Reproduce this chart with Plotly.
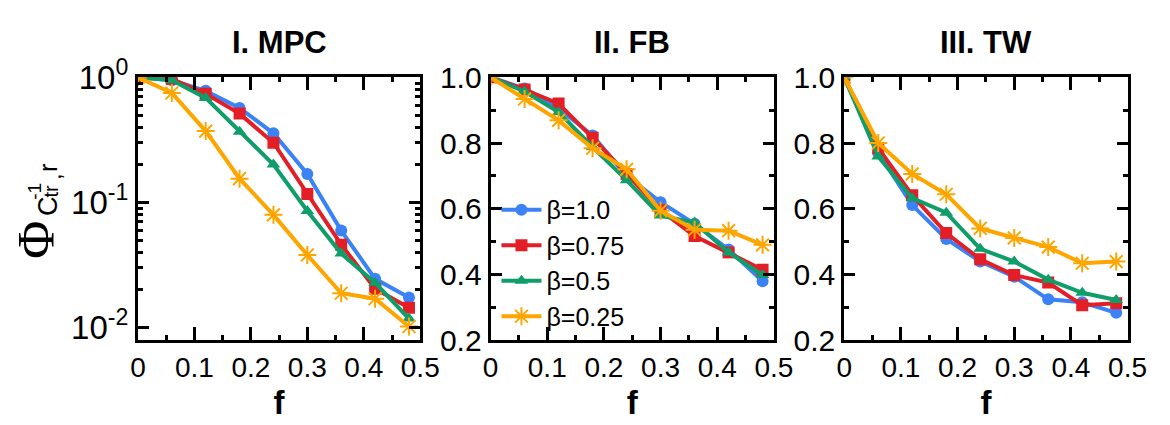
import plotly.graph_objects as go

f_vals = [0, 0.06, 0.12, 0.18, 0.24, 0.30, 0.36, 0.42, 0.48]
betas = ["β=1.0", "β=0.75", "β=0.5", "β=0.25"]
colors = ["#3b82f6", "#e31e26", "#0f9d6a", "#ffa500"]
symbols = ["circle", "square", "triangle-up", "asterisk-open"]
panel_titles = ["I. MPC", "II. FB", "III. TW"]

mpc = {
    "β=1.0":  [1.0, 0.95, 0.78, 0.57, 0.357, 0.169, 0.0596, 0.0245, 0.0174],
    "β=0.75": [1.0, 0.97, 0.74, 0.513, 0.30, 0.117, 0.046, 0.0204, 0.0144],
    "β=0.5":  [1.0, 0.95, 0.685, 0.367, 0.201, 0.0855, 0.039, 0.0228, 0.0118],
    "β=0.25": [1.0, 0.75, 0.372, 0.155, 0.0796, 0.038, 0.0188, 0.017, 0.0102],
}
fb = {
    "β=1.0":  [1.0, 0.966, 0.905, 0.823, 0.70, 0.62, 0.554, 0.476, 0.379],
    "β=0.75": [1.0, 0.963, 0.92, 0.816, 0.706, 0.595, 0.517, 0.467, 0.414],
    "β=0.5":  [1.0, 0.957, 0.894, 0.788, 0.687, 0.579, 0.558, 0.467, 0.398],
    "β=0.25": [1.0, 0.934, 0.869, 0.784, 0.72, 0.594, 0.536, 0.533, 0.49],
}
tw = {
    "β=1.0":  [1.0, 0.77, 0.611, 0.508, 0.439, 0.393, 0.324, 0.315, 0.283],
    "β=0.75": [1.0, 0.784, 0.641, 0.526, 0.446, 0.398, 0.375, 0.306, 0.312],
    "β=0.5":  [1.0, 0.759, 0.632, 0.588, 0.478, 0.439, 0.384, 0.344, 0.322],
    "β=0.25": [1.0, 0.80, 0.706, 0.644, 0.54, 0.511, 0.483, 0.434, 0.439],
}
panels = [mpc, fb, tw]

x_ticks = [0, 0.1, 0.2, 0.3, 0.4, 0.5]
x_ticktext = ["0", "0.1", "0.2", "0.3", "0.4", "0.5"]
lin_ticks = [0.2, 0.4, 0.6, 0.8, 1.0]
lin_ticktext = ["0.2", "0.4", "0.6", "0.8", "1.0"]
log_ticks = [0.01, 0.1, 1.0]
log_ticktext = ["10<sup>-2</sup>", "10<sup>-1</sup>", "10<sup>0</sup>"]

W, H = 1170, 425
x_domains = [(133, 422), (494, 784), (856, 1146)]
y_top, y_bot = 60, 350
ydom = [(H - y_bot) / H, (H - y_top) / H]

fig = go.Figure()
font_main = "Liberation Sans, Arial, Helvetica, sans-serif"

for p, data in enumerate(panels):
    ax = "" if p == 0 else str(p + 1)
    for i, b in enumerate(betas):
        sym = symbols[i]
        fig.add_trace(go.Scatter(
            x=f_vals, y=data[b], mode="lines+markers", name=b,
            xaxis="x" + ax, yaxis="y" + ax,
            line=dict(color=colors[i], width=4),
            marker=dict(symbol=sym, color=colors[i],
                        size=15 if sym == "asterisk-open" else 12,
                        line=dict(color=colors[i], width=2 if sym == "asterisk-open" else 0)),
            showlegend=(p == 1),
        ))
    xd = x_domains[p]
    xaxis = dict(
        domain=[xd[0] / W, xd[1] / W], range=[0, 0.5], anchor="y" + ax,
        tickvals=x_ticks, ticktext=x_ticktext,
        ticks="inside", ticklen=13, tickwidth=2.5, tickcolor="black",
        minor=dict(tickvals=[0.05, 0.15, 0.25, 0.35, 0.45], ticks="inside", ticklen=5, tickwidth=2.5, tickcolor="black"),
        showline=True, linewidth=3, linecolor="black", mirror="ticks",
        showgrid=False, zeroline=False,
        tickfont=dict(size=28, family=font_main, color="black"),
        title=dict(text="<b>f</b>", font=dict(size=33, family=font_main, color="black"), standoff=10),
    )
    if p == 0:
        yaxis = dict(
            type="log", range=[-2.1, 0.0], tickvals=log_ticks, ticktext=log_ticktext,
            minor=dict(tickvals=[0.02, 0.03, 0.04, 0.05, 0.06, 0.07, 0.08, 0.09,
                                 0.2, 0.3, 0.4, 0.5, 0.6, 0.7, 0.8, 0.9],
                       ticks="inside", ticklen=5, tickwidth=2.5, tickcolor="black"),
            tickfont=dict(size=33, family=font_main, color="black"),
        )
    else:
        yaxis = dict(
            range=[0.2, 1.0], tickvals=lin_ticks, ticktext=lin_ticktext,
            minor=dict(tickvals=[0.3, 0.5, 0.7, 0.9], ticks="inside", ticklen=5, tickwidth=2.5, tickcolor="black"),
            tickfont=dict(size=30, family=font_main, color="black"),
        )
    yaxis.update(dict(
        domain=ydom, anchor="x" + ax,
        ticks="inside", ticklen=11, tickwidth=2.5, tickcolor="black",
        showline=True, linewidth=3, linecolor="black", mirror="ticks",
        showgrid=False, zeroline=False,
    ))
    fig.layout["xaxis" + ax] = xaxis
    fig.layout["yaxis" + ax] = yaxis
    fig.add_annotation(
        text="<b>" + panel_titles[p] + "</b>", xref="paper", yref="paper",
        x=(xd[0] + xd[1]) / 2 / W, y=1 - 22 / H, xanchor="center", yanchor="middle",
        showarrow=False, font=dict(size=31, family=font_main, color="black"),
    )

# y-axis label pieces (rotated)
def lab(text, px, py, size, family=font_main):
    fig.add_annotation(text=text, xref="paper", yref="paper", x=px / W, y=1 - py / H,
                       xanchor="center", yanchor="middle", showarrow=False, textangle=-90,
                       font=dict(size=size, family=family, color="black"))

lab("Φ", 29, 239, 52, "Liberation Serif, Times New Roman, serif")
lab("C", 41, 202, 27)
lab("-1", 27, 186, 19)
lab("tr", 44, 185, 20)
lab(",", 45, 169, 24)
lab("r", 41, 160, 25)

fig.update_layout(
    width=W, height=H, margin=dict(l=0, r=0, t=0, b=0),
    paper_bgcolor="white", plot_bgcolor="white",
    legend=dict(x=500 / W, y=1 - 181 / H, xanchor="left", yanchor="top",
                bgcolor="rgba(0,0,0,0)", font=dict(size=25, family=font_main, color="black"),
                itemwidth=40, tracegroupgap=0),
)

fig.write_html("out.html")
